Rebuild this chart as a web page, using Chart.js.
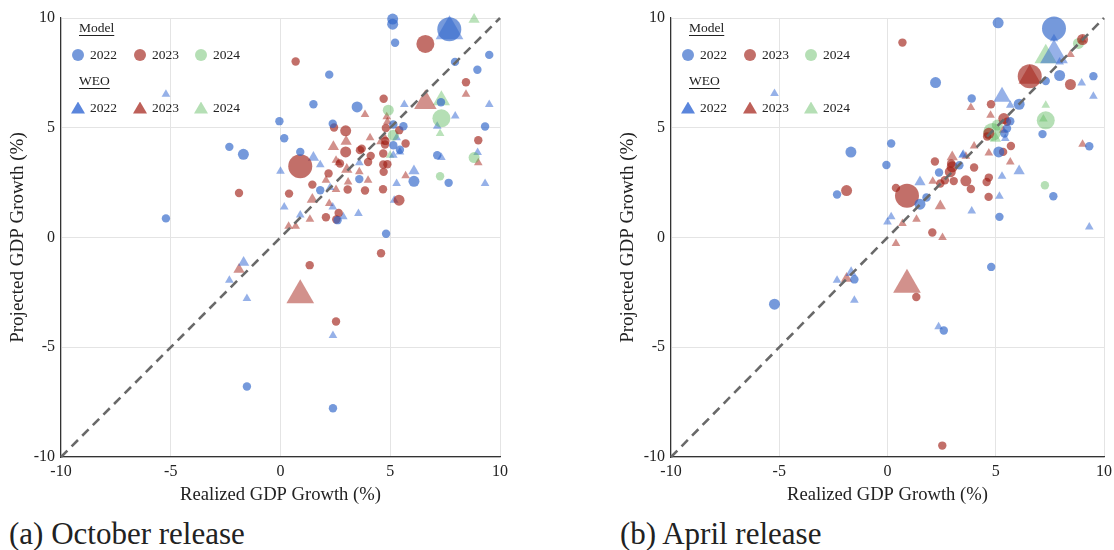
<!DOCTYPE html>
<html><head><meta charset="utf-8">
<script src="https://cdn.jsdelivr.net/npm/chart.js@4.4.0/dist/chart.umd.min.js"></script>
<style>
html,body{margin:0;padding:0;background:#fff;overflow:hidden;width:1114px;height:550px;}
body{position:relative;}
canvas{position:absolute;top:0;}
.cap{position:absolute;font-family:'Liberation Serif',serif;font-size:31px;line-height:32px;color:#222;white-space:nowrap;}
.lt{position:absolute;font-family:'Liberation Serif',serif;font-size:13.5px;line-height:14px;color:#222;white-space:nowrap;}
.u{text-decoration:underline;text-underline-offset:3px;text-decoration-thickness:1px;}
.mk{position:absolute;}
</style>
</head><body>
<canvas id="cL" width="560" height="515" style="left:0px;width:560px;height:515px"></canvas>
<canvas id="cR" width="510" height="515" style="left:610px;width:510px;height:515px"></canvas>
<div class="cap" style="left:9px;top:518px">(a) October release</div>
<div class="cap" style="left:620px;top:518px">(b) April release</div>
<script>
// ---- data: [realized, projected, size class] ----
const axisTicks = [-10, -5, 0, 5, 10];
const years = ['2022', '2023', '2024'];

// October release (left)
const octModel2022 = [[5.11,9.95,2],[5.11,9.72,2],[5.22,8.87,1],[7.69,9.49,4],[9.51,8.32,1],[7.95,8.0,1],[8.97,7.64,1],[2.22,7.42,1],[1.5,6.07,1],[3.49,5.95,2],[-0.05,5.3,1],[0.17,4.52,1],[2.38,5.18,1],[5.6,5.07,1],[9.32,5.06,1],[0.9,3.9,1],[7.14,3.75,1],[6.08,2.56,2],[7.66,2.49,1],[3.59,2.66,1],[1.81,2.15,1],[2.6,0.79,1],[4.81,0.17,1],[7.31,6.16,1],[-2.33,4.13,1],[-1.69,3.79,2],[-5.22,0.87,1],[-1.53,-6.79,1],[2.39,-7.78,1],[5.14,5.15,1],[5.14,4.2,1],[5.44,4.0,1]];
const octModel2023 = [[0.69,8.02,1],[6.6,8.82,3],[8.45,7.07,1],[4.7,6.32,1],[9.01,4.43,1],[2.44,5.01,1],[2.97,4.86,2],[2.97,3.9,2],[3.62,3.98,1],[4.11,3.72,1],[3.99,3.44,1],[4.87,3.34,1],[4.7,2.99,1],[2.19,2.92,1],[1.45,2.41,1],[0.39,2.0,1],[3.06,2.19,1],[3.85,2.14,1],[4.67,2.2,1],[0.9,3.25,4],[5.4,1.7,2],[2.65,1.12,1],[2.07,0.92,1],[2.54,0.82,1],[5.7,4.28,1],[5.41,4.89,1],[4.8,4.99,1],[4.76,4.24,1],[3.7,4.05,1],[4.68,3.83,1],[4.68,3.33,1],[2.71,3.37,1],[4.78,4.4,1],[-1.89,2.03,1],[1.33,-1.26,1],[4.58,-0.72,1],[2.53,-3.83,1]];
const octModel2024 = [[4.91,5.8,2],[7.33,5.43,3],[5.14,4.66,2],[8.82,3.64,2],[7.27,2.79,1]];
const octWeo2022 = [[7.7,9.4,5],[5.64,6.06,1],[9.51,6.06,1],[7.96,5.54,1],[7.14,5.07,1],[1.5,3.64,2],[1.81,3.32,1],[0.0,3.02,1],[3.59,3.4,1],[6.08,3.03,2],[7.33,3.64,1],[8.98,3.87,1],[5.29,2.46,1],[9.32,2.46,1],[2.26,2.28,1],[5.18,1.7,1],[0.17,1.39,1],[2.38,1.39,1],[0.9,1.02,1],[3.55,1.09,1],[2.86,0.94,1],[5.29,4.54,1],[5.44,3.9,1],[5.14,3.75,1],[-5.22,6.53,1],[-1.68,-1.14,2],[-2.33,-1.95,1],[-1.53,-2.78,1],[2.39,-4.47,1]];
const octWeo2023 = [[6.6,6.15,4],[8.45,6.53,1],[3.85,5.6,1],[2.99,4.37,2],[2.41,4.13,2],[4.08,4.55,1],[2.65,3.4,1],[3.02,3.1,2],[3.08,2.53,1],[3.99,2.61,1],[2.53,2.19,1],[2.07,2.61,1],[5.7,2.81,1],[1.45,1.73,2],[2.22,1.55,1],[1.34,0.83,1],[0.37,0.51,1],[0.69,0.51,1],[9.01,3.4,1],[4.84,5.5,1],[4.73,4.58,1],[4.87,5.27,1],[4.56,4.36,1],[2.53,3.52,1],[3.59,2.99,1],[-1.89,-1.46,2],[0.9,-2.63,5]];
const octWeo2024 = [[8.82,9.93,2],[7.33,6.25,3],[7.27,4.74,1],[4.99,3.75,1]];

// April release (right)
const aprModel2022 = [[5.11,9.78,2],[7.69,9.52,4],[2.22,7.06,2],[9.51,7.35,1],[7.95,7.38,2],[7.31,7.13,1],[3.89,6.33,1],[6.08,6.07,2],[5.67,5.3,1],[5.52,4.97,1],[0.17,4.28,1],[7.16,4.71,1],[9.32,4.16,1],[5.14,3.9,2],[-0.05,3.3,1],[2.38,2.96,1],[1.8,1.82,1],[1.5,1.52,2],[7.66,1.88,1],[5.17,0.94,1],[-1.69,3.89,2],[-2.33,1.96,1],[-5.22,-3.04,2],[-1.53,-1.91,1],[4.79,-1.34,1],[2.6,-4.24,1],[5.4,4.74,1],[3.32,3.29,1]];
const aprModel2023 = [[0.69,8.88,1],[6.57,7.35,4],[9.01,9.02,2],[8.45,6.97,2],[4.78,6.07,1],[5.37,5.42,2],[5.7,4.17,1],[5.34,3.9,1],[4.68,4.75,2],[4.6,4.6,1],[2.19,3.46,1],[2.99,3.22,2],[2.9,2.99,2],[4.0,3.19,1],[2.65,2.61,1],[2.44,2.46,1],[3.06,2.57,1],[3.62,2.58,2],[3.85,2.21,1],[4.58,2.53,1],[4.68,2.73,1],[4.67,1.85,1],[0.39,2.26,1],[0.9,1.9,4],[2.07,0.23,1],[-1.89,2.14,2],[1.33,-2.71,1],[2.53,-9.48,1],[5.52,5.27,1],[2.94,3.37,1]];
const aprModel2024 = [[8.82,8.84,2],[7.31,5.34,3],[7.27,2.38,1],[4.84,4.81,3],[5.07,5.12,2]];
const aprWeo2022 = [[7.69,9.06,1],[7.69,8.3,5],[7.95,8.0,1],[8.97,7.04,1],[9.51,6.44,1],[5.29,6.41,3],[5.67,6.03,1],[5.44,4.51,1],[6.08,3.03,2],[5.29,2.79,1],[3.5,3.79,1],[1.5,2.53,2],[5.17,1.88,1],[3.89,1.21,1],[0.0,0.71,1],[0.17,0.94,1],[9.32,0.48,1],[-5.22,6.56,1],[-1.68,-1.61,2],[-2.33,-1.95,1],[-1.53,-2.86,1],[2.36,-4.07,1],[3.47,3.75,1]];
const aprWeo2023 = [[9.01,9.0,1],[8.45,8.34,1],[6.57,7.3,4],[3.85,5.92,1],[4.76,5.57,1],[5.34,4.89,1],[4.0,4.17,1],[4.68,3.85,1],[2.99,3.67,2],[5.67,3.44,1],[2.09,2.56,1],[2.44,1.43,2],[1.34,0.83,1],[0.69,0.64,1],[9.01,4.25,1],[2.54,0.0,1],[0.39,-0.27,1],[0.9,-2.15,5],[-1.89,-1.87,2],[3.62,3.7,1]];
const aprWeo2024 = [[7.31,8.23,4],[7.31,6.03,1],[7.2,5.4,1],[4.99,4.51,2]];

// ---- styling ----
const FONT = "'Liberation Serif', 'Times New Roman', serif";
const circleR = {1:4.2, 2:5.5, 3:9, 4:12};
const triR = {1:5, 2:6.5, 3:10, 4:13, 5:16};
const circleCol = ['rgba(45,100,200,0.66)', 'rgba(160,30,20,0.64)', 'rgba(90,185,90,0.45)'];
const triCol = ['rgba(45,100,210,0.5)', 'rgba(165,35,25,0.5)', 'rgba(90,185,90,0.42)'];
const legendTriCol = ['rgba(45,100,210,0.78)', 'rgba(165,35,25,0.72)', 'rgba(90,185,90,0.45)'];

function scatterSet(arr, isTri, col, label) {
  return {
    type: 'scatter', label: label,
    data: arr.map(p => ({x: p[0], y: p[1]})),
    pointStyle: isTri ? 'triangle' : 'circle',
    pointRadius: arr.map(p => (isTri ? triR : circleR)[p[2]]),
    pointHoverRadius: arr.map(p => (isTri ? triR : circleR)[p[2]]),
    backgroundColor: col, borderWidth: 0, borderColor: 'rgba(0,0,0,0)',
    clip: false
  };
}

function makeChart(id, model, weo, padRight) {
  const datasets = [{
    type: 'line', label: 'diag',
    data: [{x: axisTicks[0], y: axisTicks[0]}, {x: axisTicks[axisTicks.length-1], y: axisTicks[axisTicks.length-1]}],
    borderColor: 'rgba(105,105,105,1)', borderWidth: 2.6, borderDash: [9, 6],
    pointRadius: 0, fill: false, clip: false
  }];
  for (let i = 0; i < 3; i++) datasets.push(scatterSet(model[i], false, circleCol[i], 'Model ' + years[i]));
  for (let i = 0; i < 3; i++) datasets.push(scatterSet(weo[i], true, triCol[i], 'WEO ' + years[i]));
  const tickOpts = {font: {family: FONT, size: 16}, color: '#222', callback: v => String(v), maxRotation: 0, autoSkip: false};
  const setTicks = s => { s.ticks = axisTicks.map(v => ({value: v})); };
  return new Chart(document.getElementById(id), {
    type: 'scatter',
    data: {datasets},
    options: {
      responsive: false, animation: false, devicePixelRatio: 1,
      layout: {padding: {top: 18, right: padRight, left: 0, bottom: 0}},
      plugins: {legend: {display: false}, tooltip: {enabled: false}},
      scales: {
        x: {type: 'linear', min: -10, max: 10,
            afterBuildTicks: setTicks,
            ticks: Object.assign({padding: 5}, tickOpts),
            grid: {color: '#e4e4e4', drawTicks: false, lineWidth: 1},
            border: {color: '#333', width: 1.2},
            title: {display: true, text: 'Realized GDP Growth (%)', font: {family: FONT, size: 18.6}, color: '#222', padding: {top: 0, bottom: 9}},
            afterFit: s => { s.height = 58; }},
        y: {type: 'linear', min: -10, max: 10,
            afterBuildTicks: setTicks,
            ticks: Object.assign({padding: 6}, tickOpts),
            grid: {color: '#e4e4e4', drawTicks: false, lineWidth: 1},
            border: {color: '#333', width: 1.2},
            title: {display: true, text: 'Projected GDP Growth (%)', font: {family: FONT, size: 19}, color: '#222', padding: {top: 7, bottom: 0}},
            afterFit: s => { s.width = 61; }}
      }
    }
  });
}

makeChart('cL', [octModel2022, octModel2023, octModel2024], [octWeo2022, octWeo2023, octWeo2024], 60);
makeChart('cR', [aprModel2022, aprModel2023, aprModel2024], [aprWeo2022, aprWeo2023, aprWeo2024], 10);

// ---- legends (HTML) ----
function addText(txt, x, yc, cls) {
  const d = document.createElement('div');
  d.className = 'lt' + (cls ? ' ' + cls : '');
  d.textContent = txt;
  d.style.left = x + 'px';
  d.style.top = (yc - 7) + 'px';
  document.body.appendChild(d);
}
function addMarker(x, yc, tri, col) {
  const d = document.createElement('div');
  d.className = 'mk';
  if (tri) {
    d.style.width = '14px'; d.style.height = '12px';
    d.style.left = (x - 7) + 'px'; d.style.top = (yc - 6.5) + 'px';
    d.style.clipPath = 'polygon(50% 0, 100% 100%, 0 100%)';
  } else {
    d.style.width = '12px'; d.style.height = '12px';
    d.style.left = (x - 6) + 'px'; d.style.top = (yc - 6) + 'px';
    d.style.borderRadius = '50%';
  }
  d.style.background = col;
  document.body.appendChild(d);
}
function buildLegend(ox) {
  const xs = [78, 140, 201];
  addText('Model', ox + 79, 28, 'u');
  addText('WEO', ox + 79, 81, 'u');
  for (let i = 0; i < 3; i++) {
    addMarker(ox + xs[i], 55, false, circleCol[i]);
    addText(years[i], ox + xs[i] + 12, 55);
    addMarker(ox + xs[i], 108, true, legendTriCol[i]);
    addText(years[i], ox + xs[i] + 12, 108);
  }
}
buildLegend(0);
buildLegend(610);
</script>
</body></html>
